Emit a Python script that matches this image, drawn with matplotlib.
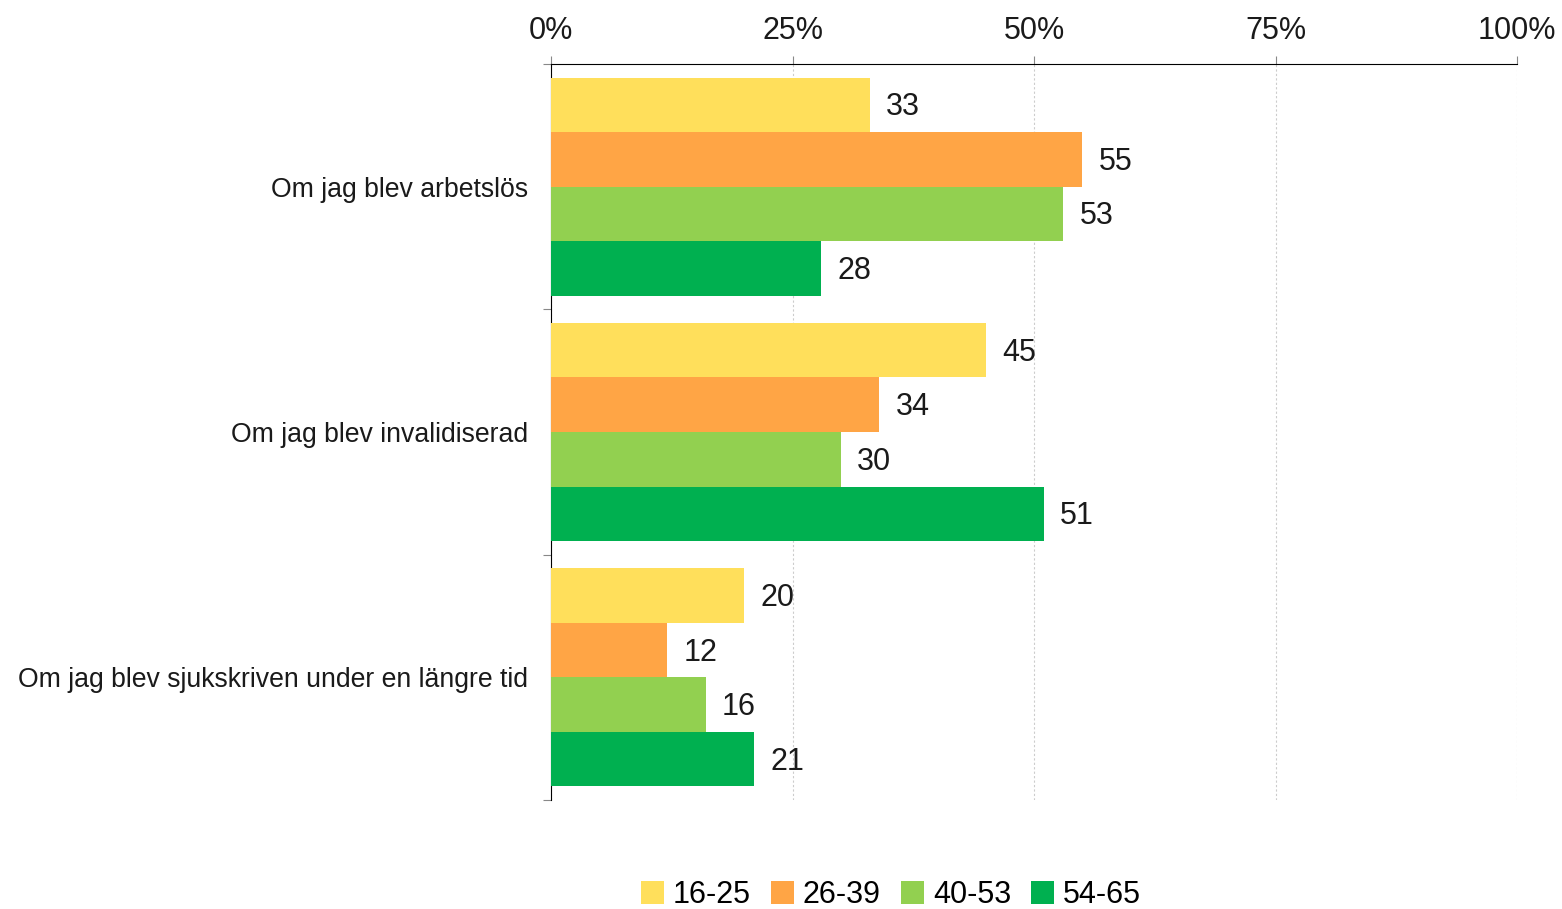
import numpy as np
import matplotlib.pyplot as plt
from matplotlib.patches import Patch

### Datos ###
kategorier = ['Om jag blev arbetslös', 'Om jag blev invalidiserad',
              'Om jag blev sjukskriven under en längre tid']
grupper = ['16-25', '26-39', '40-53', '54-65']
v_16_25 = [33, 45, 20]
v_26_39 = [55, 34, 12]
v_40_53 = [53, 30, 16]
v_54_65 = [28, 51, 21]
serier = [v_16_25, v_26_39, v_40_53, v_54_65]
farger = ['#FFDF5B', '#FFA545', '#92D050', '#00B050']
ticks = [0, 25, 50, 75, 100]

plt.rcParams['font.family'] = ['Liberation Sans', 'DejaVu Sans']
fs = 22

fig = plt.figure(figsize=(15.62, 9.09), dpi=100)
ax = fig.add_axes([551/1562, 1-800/909, (1517-551)/1562, (800-64)/909])

h = 0.2224
y = np.arange(len(kategorier))
for i, (vals, c) in enumerate(zip(serier, farger)):
    pos = y + (i - 1.5) * h
    ax.barh(pos, vals, height=h, color=c, zorder=3)
    for p, v in zip(pos, vals):
        ax.text(v + 1.7, p + 0.01, str(v), va='center', ha='left', fontsize=fs, color='#1a1a1a', zorder=4)

ax.set_xlim(0, 100)
ax.set_ylim(len(kategorier) - 0.5, -0.5)
ax.xaxis.tick_top()
ax.set_xticks(ticks)
ax.set_xticklabels([f'{t}%' for t in ticks], fontsize=fs, color='#1a1a1a')
ax.tick_params(axis='x', direction='out', length=6, color='#888888', pad=7)
ax.grid(axis='x', linestyle=(0, (2, 2)), color='#cccccc', linewidth=0.8, zorder=0)

# y: ticks at boundaries, labels at centers
ax.set_yticks(np.arange(len(kategorier) + 1) - 0.5)
ax.set_yticklabels([])
ax.set_yticks(y, minor=True)
ax.set_yticklabels(kategorier, minor=True, fontsize=19.2, color='#1a1a1a')
ax.tick_params(axis='y', which='major', direction='out', length=6, color='#888888')
ax.tick_params(axis='y', which='minor', length=0, pad=16.5)

for s in ['right', 'bottom']:
    ax.spines[s].set_visible(False)
ax.spines['top'].set_color('black')
ax.spines['left'].set_color('black')

handles = [Patch(facecolor=c, label=g) for g, c in zip(grupper, farger)]
fig.legend(handles=handles, loc='center', bbox_to_anchor=(891/1562, 1-895/909), ncol=4,
           frameon=False, fontsize=fs, handlelength=0.75, handleheight=0.75,
           handletextpad=0.3, columnspacing=0.65, borderpad=0)

fig.savefig('out.png', dpi=100)
